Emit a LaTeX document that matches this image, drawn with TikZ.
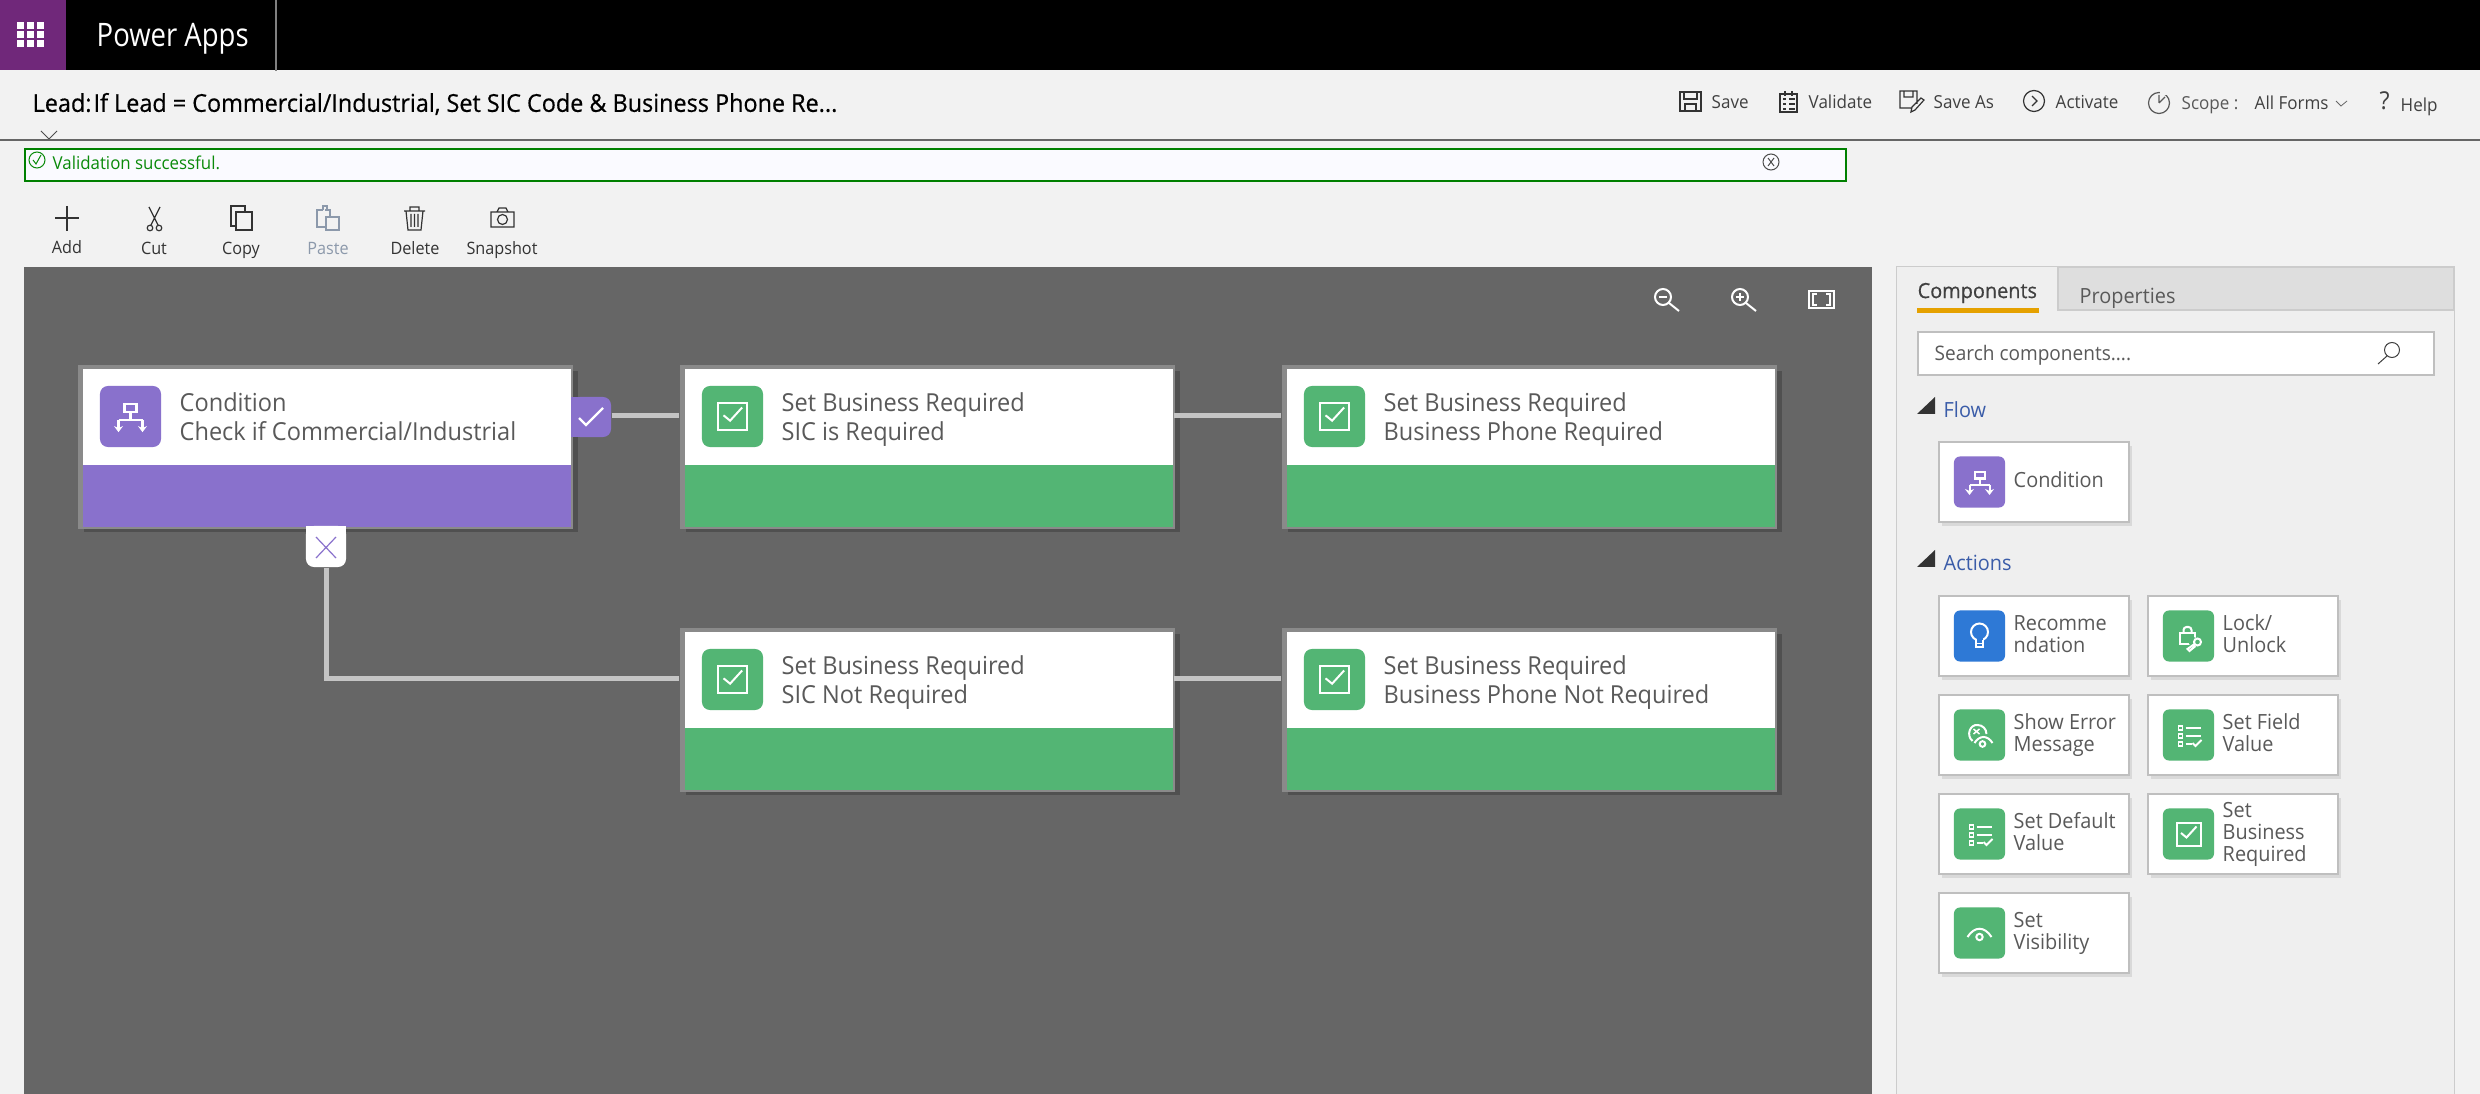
\documentclass[tikz,border=0pt]{standalone}
\usepackage{fontspec}
\setmainfont[FakeStretch=0.95]{Open Sans}
\newfontfamily\medfont[FakeBold=0.5,FakeStretch=0.95]{Open Sans}
\newfontfamily\appfont[FakeStretch=0.85]{Open Sans}
\usetikzlibrary{arrows.meta}
\definecolor{wfpurple}{HTML}{8971CC}
\definecolor{wfgreen}{HTML}{53B574}
\definecolor{wfblue}{HTML}{2E79D6}
\definecolor{wfgrey}{HTML}{666666}
\definecolor{wfshadow}{HTML}{505050}
\definecolor{wfframe}{HTML}{8A8A8A}
\definecolor{wftext}{HTML}{595959}
\definecolor{wflink}{HTML}{C4C4C4}
\definecolor{pagebg}{HTML}{F2F2F2}
\definecolor{panelbg}{HTML}{EFEFEF}
\definecolor{okgreen}{HTML}{0A8A0A}
\definecolor{sectionblue}{HTML}{3A5CA8}
\definecolor{appbrand}{HTML}{70287A}
\definecolor{pastegrey}{HTML}{8C99AB}
\newcommand{\tophold}{\rule{0pt}{0.76em}}
\newcommand{\lowhold}{\rule[-0.25em]{0pt}{0.25em}}
\tikzstyle{cardshadow}=[
        fill=wfshadow
]
\tikzstyle{cardframe}=[
        fill=wfframe,
        anchor=north west, inner sep=0pt, minimum width=4.95cm, minimum height=1.64cm
]
\tikzstyle{cardbody}=[
        fill=white,
        anchor=north west, inner sep=0pt, minimum width=4.88cm, minimum height=1.2cm
]
\tikzstyle{cardhead}=[
        anchor=north west, inner sep=0pt, outer sep=0pt, minimum width=4.95cm, minimum height=1.01cm
]
\tikzstyle{cardband}=[
        anchor=north west, inner sep=0pt, minimum width=4.88cm, minimum height=0.62cm
]
\tikzstyle{iconbox}=[
        rounded corners=0.08cm, inner sep=0pt, minimum width=0.61cm, minimum height=0.61cm
]
\tikzstyle{cardtext}=[
        anchor=west, align=left, inner sep=0pt, text=wftext,
        font=\fontsize{7.05}{8.25}\selectfont
]
\tikzstyle{link}=[
        draw=wflink, line width=0.05cm
]
\tikzstyle{choicetab}=[
        rounded corners=0.08cm, inner sep=0pt
]
\tikzstyle{paletteitem}=[
        draw=black!25!white, fill=white, line width=0.02cm,
        anchor=north west, inner sep=0pt, minimum width=1.9cm, minimum height=0.8cm
]
\tikzstyle{palettetext}=[
        anchor=west, align=left, inner sep=0pt, text=wftext,
        font=\fontsize{5.95}{6.3}\selectfont
]
\tikzstyle{menutext}=[
        anchor=west, inner sep=0pt, text=black!75!white, text height=0.14cm, text depth=0.04cm,
        font=\fontsize{5.1}{6}\selectfont
]
\tikzstyle{toollabel}=[
        inner sep=0pt, text=black!80!white, text height=0.15cm, text depth=0.04cm,
        font=\fontsize{4.85}{6}\selectfont
]
\tikzstyle{toolicon}=[
        draw=black!80!white, line width=0.012cm
]
\tikzstyle{whiteline}=[
        draw=white, line width=0.02cm
]
\tikzset{
  flowpic/.pic={
    \draw[whiteline] (-5,-10) rectangle (5,-3.5);
    \draw[whiteline] (0,-3.5) -- (0,3) (-10,3) -- (10,3);
    \draw[whiteline,-{Stealth[length=0.06cm,width=0.09cm]}] (-10,3) -- (-10,13);
    \draw[whiteline,-{Stealth[length=0.06cm,width=0.09cm]}] (10,3) -- (10,13);
  },
  checkpic/.pic={
    \draw[whiteline] (-12,-11.5) rectangle (12,11.5);
    \draw[whiteline] (-7.5,-1) -- (-2,3.5) -- (8,-7.5);
  },
  bulbpic/.pic={
    \draw[whiteline] (0,-4) circle [radius=8.5];
    \fill[wfblue] (-3,2) rectangle (3,6);
    \draw[whiteline] (-3.5,3.5) -- (-3.5,11) -- (3.5,11) -- (3.5,3.5);
    \draw[whiteline,line width=0.012cm] (-3.5,7.5) -- (3.5,7.5);
  },
  lockpic/.pic={
    \draw[whiteline] (-9,-3) rectangle (6,8);
    \draw[whiteline,rounded corners=0.03cm] (-5,-3) -- (-5,-9) -- (3,-9) -- (3,-3);
    \fill[wfgreen] (5,6) circle [radius=5];
    \draw[whiteline] (9,6) circle [radius=3.5];
    \draw[whiteline] (6,8) -- (-1,13) -- (1,15) -- (7,10);
  },
  errorpic/.pic={
    \draw[whiteline] (-7,6) .. controls (-14,0) and (-9,-11) .. (-2,-10) .. controls (3,-10) and (7,-6) .. (7,-1);
    \draw[whiteline,line width=0.015cm] (-6,-6) -- (0,-1) (0,-6) -- (-6,-1);
    \draw[whiteline] (-5,8) .. controls (0,0) and (8,0) .. (13,8);
    \draw[whiteline] (3,9) circle [radius=2.8];
  },
  listpic/.pic={
    \foreach \rowy in {-7,1,9}
      \draw[whiteline,line width=0.012cm] (-10,\rowy-2) rectangle (-6,\rowy+2);
    \draw[whiteline] (-3,-7) -- (12,-7) (-3,1) -- (12,1) (-3,9) -- (3,9);
    \draw[whiteline] (4,8) -- (7,11) -- (13,5);
  },
  eyepic/.pic={
    \draw[whiteline] (-12,4) .. controls (-5,-7) and (5,-7) .. (12,4);
    \draw[whiteline] (0,4) circle [radius=3.2];
  },
  zoompic/.pic={
    \draw[whiteline] (0,0) circle [radius=8];
    \draw[whiteline] (-4,0) -- (4,0);
    \draw[whiteline] (6,6) -- (16,14);
  }
}
\newcommand{\flowcard}[6]{
  \fill[cardshadow] (#2+6,#3+6) rectangle (#2+500,#3+167);
  \node[cardframe] (#1frame) at (#2-1,#3-1) {};
  \node[cardbody] (#1body) at (#2+4,#3+3) {};
  \node[cardband,fill=#4] (#1band) at (#2+4,#3+99) {};
  \node[cardhead] (#1) at (#2-1,#3) {};
  \node[iconbox,fill=#4] (#1icon) at (#2+52.5,#3+51.5) {};
  \pic[scale=1.2] at (#1icon) {#5};
  \node[cardtext] (#1text) at (#2+101,#3+54.5) {\tophold#6\lowhold};
}
\newcommand{\paletteitem}[6]{
  \fill[black!15!white] (#2+4,#3+5) rectangle (#2+194,#3+85);
  \node[paletteitem] (#1) at (#2,#3) {};
  \node[iconbox,fill=#4,minimum width=0.51cm,minimum height=0.51cm,rounded corners=0.06cm] (#1icon) at (#2+41.5,#3+41) {};
  \pic at (#1icon) {#5};
  \node[palettetext] (#1text) at (#2+75,#3+41) {\tophold#6\lowhold};
}
\begin{document}
\begin{tikzpicture}[x=0.01cm,y=-0.01cm]
    \useasboundingbox (0,0) rectangle (2480,1094);
    \fill[pagebg] (0,0) rectangle (2480,1094);

    \fill[black] (0,0) rectangle (2480,70);
    \fill[appbrand] (0,0) rectangle (66,70);
    \foreach \i in {0,1,2} {
        \foreach \j in {0,1,2} {
            \fill[white] (17+10*\i,22+9*\j) rectangle ++(7,7);
        }
    }
    \draw[gray,line width=0.02cm] (276,0) -- (276,71);
    \node[anchor=west,inner sep=0pt,text=white,font=\fontsize{9.2}{11}\appfont] (appname) at (96,39) {Power Apps};

    \node[anchor=west,inner sep=0pt,text=black,font=\fontsize{7}{8}\medfont] (titletext) at (32,104) {Lead:\kern0.6pt If Lead = Commercial/Industrial, Set SIC Code \& Business Phone Re...};
    \draw[black!70!white,line width=0.008cm] (41,131) -- (49,139) -- (57,131);
    \draw[wfgrey,line width=0.02cm] (0,140) -- (2480,140);

    \node[menutext] (savetext) at (1711,103) {Save};
    \node[menutext] (validatetext) at (1808,103) {Validate};
    \node[menutext] (saveastext) at (1933,103) {Save As};
    \node[menutext] (activatetext) at (2055,103) {Activate};
    \node[menutext,text=wftext] (scopetext) at (2181,105) {Scope :};
    \node[menutext] (formstext) at (2254,105) {All Forms};
    \node[menutext,font=\fontsize{7}{8}\selectfont] (helpmark) at (2379,105) {?};
    \node[menutext] (helptext) at (2400,106) {Help};
    \draw[toolicon] (1680,92) rectangle (1701,111) (1684,92) -- (1684,99) -- (1697,99) -- (1697,92) (1685,111) -- (1685,104) -- (1696,104) -- (1696,111);
    \draw[toolicon] (1780,94) rectangle (1797,112) (1785,91) -- (1785,96) (1792,91) -- (1792,96);
    \foreach \j in {99,104,109} {
        \draw[toolicon] (1783,\j) -- (1786,\j) (1789,\j) -- (1795,\j);
    }
    \draw[toolicon] (1917,104) -- (1917,91) -- (1900,91) -- (1900,108) -- (1911,108) (1904,91) -- (1904,97) -- (1913,97) -- (1913,91) (1911,112) -- (1912,107) -- (1921,98) -- (1924,100) -- (1915,110) -- cycle;
    \draw[toolicon] (2034,101) circle [radius=10.5] (2032,96) -- (2037,101) -- (2032,106);
    \draw[toolicon,draw=wftext] (2159,103) circle [radius=10.5] (2159,103) -- (2165,97) (2159,103) -- (2159,95);
    \fill[pagebg] (2160,91) rectangle (2168,95);
    \draw[black!60!white,line width=0.008cm] (2336,101) -- (2341,106) -- (2347,101);

    \node[draw=green!50!black,fill=blue!2!white,line width=0.02cm,anchor=north west,inner sep=0pt,minimum width=18.2cm,minimum height=0.32cm] (validbar) at (24,148) {};
    \node[anchor=west,inner sep=0pt,text=okgreen,font=\fontsize{5.05}{6}\selectfont] (validtext) at (52,163) {Validation successful.};
    \draw[okgreen,line width=0.01cm] (37,160) circle [radius=8] (33,160) -- (36,164) -- (41,155);
    \draw[black!70!white,line width=0.01cm] (1771,162) circle [radius=8] (1768,158) -- (1774,166) (1774,158) -- (1768,166);

    \foreach \nm/\x/\y/\txt in {addlabel/67/247.5/Add,cutlabel/154/249.5/Cut,copylabel/241/249.5/Copy,deletelabel/415/249.5/Delete,snaplabel/502/248.5/Snapshot} {
        \node[toollabel] (\nm) at (\x,\y) {\txt};
    }
    \node[toollabel,text=pastegrey] (pastelabel) at (328,248.5) {Paste};

    \draw[toolicon] (67,206) -- (67,231) (55,218) -- (79,218);
    \draw[toolicon] (149,207) -- (158,225) (160,207) -- (151,225) (150,228) circle [radius=2.8] (159,228) circle [radius=2.8];
    \draw[toolicon] (245,211) -- (245,206) -- (231,206) -- (231,226) -- (236,226) (236,212) rectangle (252,230);
    \draw[toolicon,draw=pastegrey] (323,210) -- (317,210) -- (317,227) -- (326,227) (330,217) -- (330,210) -- (325,210) (323,210) -- (323,206) -- (327,206) -- (327,210) (326,217) rectangle (339,230);
    \draw[toolicon] (404,211) -- (425,211) (410,211) -- (410,207) -- (419,207) -- (419,211) (406,211) -- (408,230) -- (421,230) -- (423,211) (411,214) -- (411,227) (414.5,214) -- (414.5,227) (418,214) -- (418,227);
    \draw[toolicon] (491,212) rectangle (514,227) (497,212) -- (499,208) -- (506,208) -- (508,212) (502.5,219.5) circle [radius=5];

    \fill[wfgrey] (24,267) rectangle (1872,1094);

    \pic at (1663,297) {zoompic};
    \pic at (1740,297) {zoompic};
    \draw[whiteline] (1740,293) -- (1740,301);
    \draw[whiteline,line width=0.015cm] (1809,291) rectangle (1834,308);
    \draw[whiteline,line width=0.015cm] (1817,294) -- (1813,294) -- (1813,305) -- (1817,305);
    \draw[whiteline,line width=0.015cm] (1826,294) -- (1830,294) -- (1830,305) -- (1826,305);

    \flowcard{condcheck}{78}{365}{wfpurple}{flowpic}{Condition\\Check if Commercial/Industrial}
    \flowcard{sicreq}{680}{365}{wfgreen}{checkpic}{Set Business Required\\SIC is Required}
    \flowcard{phonereq}{1282}{365}{wfgreen}{checkpic}{Set Business Required\\Business Phone Required}
    \flowcard{sicnot}{680}{628}{wfgreen}{checkpic}{Set Business Required\\SIC Not Required}
    \flowcard{phonenot}{1282}{628}{wfgreen}{checkpic}{Set Business Required\\Business Phone Not Required}

    \fill[wfpurple] (571,397) rectangle (585,437);
    \fill[white] (306,526) rectangle (346,540);
    \node[choicetab,fill=wfpurple,minimum width=0.39cm,minimum height=0.4cm] (ctrue) at (591.5,417) {};
    \node[choicetab,fill=white,minimum width=0.4cm,minimum height=0.41cm] (cfalse) at (326,546.5) {};
    \draw[whiteline,line width=0.022cm] (579,418) -- (586,425) -- (603,408);
    \draw[wfpurple,line width=0.012cm] (316,537) -- (336,558) (336,537) -- (316,558);

    \draw[link] (ctrue.east |- sicreq) -- (sicreq);
    \draw[link] (sicreq) -- (phonereq);
    \draw[link] (cfalse.south) |- (sicnot);
    \draw[link] (sicnot) -- (phonenot);

    \fill[panelbg,draw=black!20!white,line width=0.01cm] (1896,267) rectangle (2454,1094);
    \fill[black!13!white,draw=black!20!white,line width=0.015cm] (2058,267) rectangle (2454,310);
    \node[anchor=west,inner sep=0pt,text=black!75!white,font=\fontsize{5.95}{7}\medfont] (comptab) at (1917,293) {Components};
    \node[anchor=west,inner sep=0pt,text=wftext,font=\fontsize{5.95}{7}\selectfont] (proptab) at (2079,298) {Properties};
    \fill[orange!60!yellow!90!black] (1917,308) rectangle (2039,313);
    \node[draw=black!25!white,fill=white,line width=0.02cm,anchor=north west,inner sep=0pt,minimum width=5.16cm,minimum height=0.43cm] (searchbox) at (1917,331) {};
    \node[anchor=west,inner sep=0pt,text=wftext,font=\fontsize{5.7}{7}\selectfont] (searchtext) at (1934,355) {Search components....};
    \draw[black!75!white,line width=0.01cm] (2392,350) circle [radius=7.5] (2387,356) -- (2378,364);

    \fill[black!80!white] (1917,414) -- (1935,397) -- (1935,414) -- cycle;
    \node[anchor=west,inner sep=0pt,text=sectionblue,font=\fontsize{5.95}{7}\selectfont] (flowhead) at (1943,410) {Flow};
    \fill[black!80!white] (1917,567) -- (1935,550) -- (1935,567) -- cycle;
    \node[anchor=west,inner sep=0pt,text=sectionblue,font=\fontsize{5.95}{7}\selectfont] (actionshead) at (1943,563) {Actions};

    \paletteitem{palcond}{1938}{441}{wfpurple}{flowpic}{Condition}
    \paletteitem{palrec}{1938}{595}{wfblue}{bulbpic}{Recomme\\ndation}
    \paletteitem{pallock}{2147}{595}{wfgreen}{lockpic}{Lock/\\Unlock}
    \paletteitem{palerror}{1938}{694}{wfgreen}{errorpic}{Show Error\\Message}
    \paletteitem{palfield}{2147}{694}{wfgreen}{listpic}{Set Field\\Value}
    \paletteitem{paldefault}{1938}{793}{wfgreen}{listpic}{Set Default\\Value}
    \paletteitem{palbusiness}{2147}{793}{wfgreen}{checkpic}{Set\\Business\\Required}
    \paletteitem{palvisible}{1938}{892}{wfgreen}{eyepic}{Set\\Visibility}
\end{tikzpicture}
\end{document}
